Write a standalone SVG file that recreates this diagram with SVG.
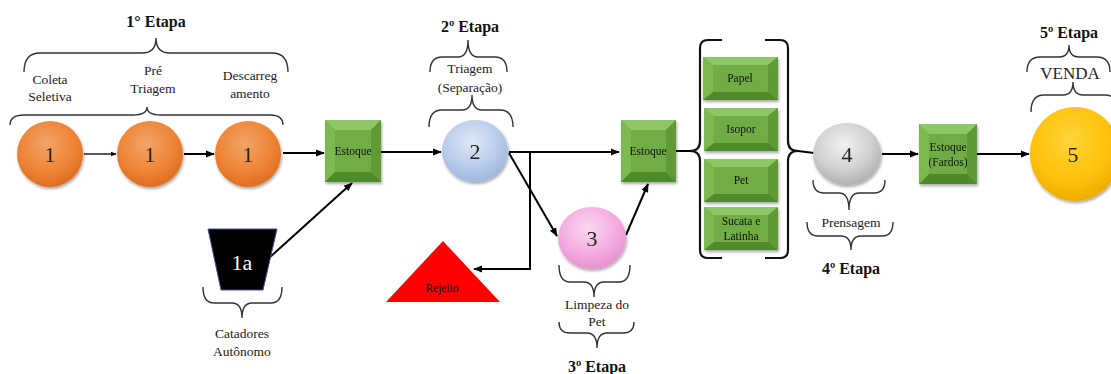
<svg xmlns="http://www.w3.org/2000/svg" width="1111" height="374" viewBox="0 0 1111 374">
  <defs>
    <radialGradient id="gOrange" cx="0.45" cy="0.35" r="0.7">
      <stop offset="0" stop-color="#f4a46a"/>
      <stop offset="0.6" stop-color="#ee8435"/>
      <stop offset="1" stop-color="#d9691f"/>
    </radialGradient>
    <radialGradient id="gBlue" cx="0.45" cy="0.35" r="0.7">
      <stop offset="0" stop-color="#dfe8f6"/>
      <stop offset="0.6" stop-color="#b8cbea"/>
      <stop offset="1" stop-color="#9ab2dc"/>
    </radialGradient>
    <radialGradient id="gPink" cx="0.45" cy="0.35" r="0.7">
      <stop offset="0" stop-color="#fbd8f0"/>
      <stop offset="0.6" stop-color="#f3abe0"/>
      <stop offset="1" stop-color="#e48ccc"/>
    </radialGradient>
    <radialGradient id="gGray" cx="0.45" cy="0.35" r="0.7">
      <stop offset="0" stop-color="#f2f2f2"/>
      <stop offset="0.6" stop-color="#cfcfcf"/>
      <stop offset="1" stop-color="#aaaaaa"/>
    </radialGradient>
    <radialGradient id="gYellow" cx="0.45" cy="0.35" r="0.7">
      <stop offset="0" stop-color="#ffd43a"/>
      <stop offset="0.6" stop-color="#ffc20a"/>
      <stop offset="1" stop-color="#e8a800"/>
    </radialGradient>
    <filter id="shadow" x="-20%" y="-20%" width="140%" height="140%">
      <feGaussianBlur in="SourceAlpha" stdDeviation="1.5"/>
      <feOffset dx="1" dy="2"/>
      <feComponentTransfer><feFuncA type="linear" slope="0.35"/></feComponentTransfer>
      <feMerge><feMergeNode/><feMergeNode in="SourceGraphic"/></feMerge>
    </filter>
    <marker id="arrow" viewBox="0 0 10 10" refX="9" refY="5" markerWidth="4.5" markerHeight="4.5" orient="auto-start-reverse" markerUnits="strokeWidth">
      <path d="M0,1 L10,5 L0,9 Z" fill="#000"/>
    </marker>
  </defs>
  <style>
    .stage { font-family: "Liberation Serif", serif; font-weight: bold; font-size: 16px; fill: #111; text-anchor: middle; }
    .lbl { font-family: "Liberation Serif", serif; font-size: 13.5px; fill: #222; text-anchor: middle; }
    .num { font-family: "Liberation Serif", serif; font-size: 22px; fill: #222; text-anchor: middle; }
    .box { font-family: "Liberation Serif", serif; font-size: 11.5px; fill: #111; text-anchor: middle; }
    .brace { fill: none; stroke: #333; stroke-width: 1.4; }
    .conn { fill: none; stroke: #000; stroke-width: 2; }
    .bevT { fill: #8fc765; }
    .bevL { fill: #7cba50; }
    .bevR { fill: #5e9a35; }
    .bevB { fill: #4f8a2a; }
    .face { fill: #6fae45; }
  </style>

  <!-- stage titles and captions -->
  <g id="labels">
    <text class="stage" x="156" y="27">1° Etapa</text>
    <text class="lbl" x="50" y="84">Coleta</text>
    <text class="lbl" x="50" y="101">Seletiva</text>
    <text class="lbl" x="153" y="75">Pré</text>
    <text class="lbl" x="153" y="93">Triagem</text>
    <text class="lbl" x="250" y="80">Descarreg</text>
    <text class="lbl" x="250" y="98">amento</text>

    <text class="stage" x="470" y="32">2º Etapa</text>
    <text class="lbl" x="470" y="73">Triagem</text>
    <text class="lbl" x="470" y="92">(Separação)</text>

    <text class="lbl" x="597" y="309">Limpeza do</text>
    <text class="lbl" x="597" y="326">Pet</text>
    <text class="stage" x="597" y="372">3º Etapa</text>

    <text class="lbl" x="851" y="227">Prensagem</text>
    <text class="stage" x="851" y="274">4º Etapa</text>

    <text class="stage" x="1069" y="38">5º Etapa</text>
    <text x="1070" y="79" style="font-family:'Liberation Serif',serif;font-size:17px;fill:#222;text-anchor:middle">VENDA</text>

    <text class="lbl" x="242" y="338">Catadores</text>
    <text class="lbl" x="242" y="356">Autônomo</text>
  </g>

  <!-- curly braces -->
  <g id="braces">
    <path class="brace" d="M24,72 Q24,53 40,53 L142,53 Q156,53 156,38 Q156,53 170,53 L272,53 Q288,53 288,72"/>
    <path class="brace" d="M10,125 Q10,115 24,115 L133,115 Q147,115 147,107 Q147,115 161,115 L270,115 Q283,115 283,125"/>
    <path class="brace" d="M430,72 Q430,57 442,57 L458,57 Q468,57 468,40 Q468,57 478,57 L495,57 Q507,57 507,72"/>
    <path class="brace" d="M429,127 Q429,110 442,110 L462,110 Q472,110 472,95 Q472,110 482,110 L500,110 Q513,110 513,127"/>
    <path class="brace" d="M559,265 Q559,282 570,282 L584,282 Q594,282 594,297 Q594,282 604,282 L619,282 Q630,282 630,265"/>
    <path class="brace" d="M559,322 Q559,333 570,333 L587,333 Q597,333 597,348 Q597,333 607,333 L623,333 Q634,333 634,322"/>
    <path class="brace" d="M813,180 Q813,193 824,193 L839,193 Q849,193 849,210 Q849,193 859,193 L874,193 Q885,193 885,180"/>
    <path class="brace" d="M807,222 Q807,236 818,236 L841,236 Q851,236 851,250 Q851,236 861,236 L882,236 Q893,236 893,222"/>
    <path class="brace" d="M1027,72 Q1027,57 1040,57 L1059,57 Q1069,57 1069,45 Q1069,57 1079,57 L1097,57 Q1110,57 1110,72"/>
    <path class="brace" d="M1031,112 Q1031,95 1044,95 L1063,95 Q1073,95 1073,82 Q1073,95 1083,95 L1105,95 Q1118,95 1118,112"/>
    <path class="brace" d="M203,287 Q203,303 214,303 L232,303 Q242,303 242,318 Q242,303 252,303 L271,303 Q282,303 282,287"/>
    <!-- large brackets around material boxes -->
    <path class="brace" style="stroke:#111;stroke-width:2.2" d="M722,40 L708,40 Q700,40 700,48 L700,141 Q700,151 690,151 Q700,151 700,161 L700,250 Q700,258 708,258 L722,258"/>
    <path class="brace" style="stroke:#111;stroke-width:2.2" d="M765,40 L780,40 Q788,40 788,48 L788,141 Q788,151 798,151 Q788,151 788,161 L788,250 Q788,258 780,258 L765,258"/>
  </g>

  <!-- connectors -->
  <g id="connectors">
    <line class="conn" style="stroke-width:1.3" x1="84" y1="154" x2="116" y2="154" marker-end="url(#arrow)"/>
    <line class="conn" x1="184" y1="154" x2="214" y2="154" marker-end="url(#arrow)"/>
    <line class="conn" x1="283" y1="153" x2="324" y2="153" marker-end="url(#arrow)"/>
    <line class="conn" x1="381" y1="152" x2="441" y2="152" marker-end="url(#arrow)"/>
    <line class="conn" x1="269" y1="258" x2="352" y2="183" marker-end="url(#arrow)"/>
    <line class="conn" x1="509" y1="152" x2="619" y2="152" marker-end="url(#arrow)"/>
    <polyline class="conn" points="530,152 530,269 474,269" marker-end="url(#arrow)"/>
    <line class="conn" x1="509" y1="153" x2="557" y2="236" marker-end="url(#arrow)"/>
    <line class="conn" x1="626" y1="235" x2="648" y2="184" marker-end="url(#arrow)"/>
    <line class="conn" x1="676" y1="151" x2="690" y2="151"/>
    <line class="conn" x1="798" y1="151" x2="814" y2="153"/>
    <line class="conn" x1="882" y1="154" x2="918" y2="154" marker-end="url(#arrow)"/>
    <line class="conn" x1="977" y1="154" x2="1029" y2="154" marker-end="url(#arrow)"/>
  </g>

  <!-- stage 1 circles -->
  <g id="n1a" filter="url(#shadow)">
    <ellipse cx="50" cy="154" rx="33" ry="33" fill="url(#gOrange)"/>
    <text class="num" x="50" y="162">1</text>
  </g>
  <g id="n1b" filter="url(#shadow)">
    <ellipse cx="150" cy="154" rx="33" ry="33" fill="url(#gOrange)"/>
    <text class="num" x="150" y="162">1</text>
  </g>
  <g id="n1c" filter="url(#shadow)">
    <ellipse cx="248" cy="154" rx="33" ry="33" fill="url(#gOrange)"/>
    <text class="num" x="248" y="162">1</text>
  </g>

  <!-- independent collectors -->
  <g id="catadores">
    <polygon points="208,229 277,229 263,290 221,290" fill="#000" stroke="#3a5a8a" stroke-width="1"/>
    <text class="num" x="242" y="270" style="fill:#fff">1a</text>
  </g>

  <!-- stock box 1 -->
  <g id="estoque1" filter="url(#shadow)">
    <rect class="face" x="325" y="120" width="56" height="62"/>
    <polygon class="bevT" points="325,120 381,120 371,130 335,130"/>
    <polygon class="bevL" points="325,120 335,130 335,172 325,182"/>
    <polygon class="bevR" points="381,120 381,182 371,172 371,130"/>
    <polygon class="bevB" points="325,182 381,182 371,172 335,172"/>
    <text class="box" x="353" y="155">Estoque</text>
  </g>

  <!-- sorting -->
  <g id="n2" filter="url(#shadow)">
    <ellipse cx="475" cy="151" rx="33" ry="31" fill="url(#gBlue)"/>
    <text class="num" x="475" y="159">2</text>
  </g>

  <!-- reject -->
  <g id="rejeito">
    <polygon points="443,241 500,302 386,302" fill="#ff0000"/>
    <text class="box" x="442" y="292">Rejeito</text>
  </g>

  <!-- PET cleaning -->
  <g id="n3" filter="url(#shadow)">
    <ellipse cx="592" cy="238" rx="34" ry="31" fill="url(#gPink)"/>
    <text class="num" x="592" y="246">3</text>
  </g>

  <!-- stock box 2 -->
  <g id="estoque2" filter="url(#shadow)">
    <rect class="face" x="621" y="120" width="55" height="62"/>
    <polygon class="bevT" points="621,120 676,120 666,130 631,130"/>
    <polygon class="bevL" points="621,120 631,130 631,172 621,182"/>
    <polygon class="bevR" points="676,120 676,182 666,172 666,130"/>
    <polygon class="bevB" points="621,182 676,182 666,172 631,172"/>
    <text class="box" x="648" y="155">Estoque</text>
  </g>

  <!-- material boxes -->
  <g id="papel" filter="url(#shadow)">
    <rect class="face" x="703" y="57" width="75" height="43"/>
    <polygon class="bevT" points="703,57 778,57 768,65 713,65"/>
    <polygon class="bevL" points="703,57 713,65 713,92 703,100"/>
    <polygon class="bevR" points="778,57 778,100 768,92 768,65"/>
    <polygon class="bevB" points="703,100 778,100 768,92 713,92"/>
    <text class="box" x="740" y="82">Papel</text>
  </g>
  <g id="isopor" filter="url(#shadow)">
    <rect class="face" x="704" y="108" width="74" height="43"/>
    <polygon class="bevT" points="704,108 778,108 768,116 714,116"/>
    <polygon class="bevL" points="704,108 714,116 714,143 704,151"/>
    <polygon class="bevR" points="778,108 778,151 768,143 768,116"/>
    <polygon class="bevB" points="704,151 778,151 768,143 714,143"/>
    <text class="box" x="741" y="133">Isopor</text>
  </g>
  <g id="pet" filter="url(#shadow)">
    <rect class="face" x="704" y="159" width="74" height="43"/>
    <polygon class="bevT" points="704,159 778,159 768,167 714,167"/>
    <polygon class="bevL" points="704,159 714,167 714,194 704,202"/>
    <polygon class="bevR" points="778,159 778,202 768,194 768,167"/>
    <polygon class="bevB" points="704,202 778,202 768,194 714,194"/>
    <text class="box" x="741" y="184">Pet</text>
  </g>
  <g id="sucata" filter="url(#shadow)">
    <rect class="face" x="704" y="207" width="74" height="43"/>
    <polygon class="bevT" points="704,207 778,207 768,215 714,215"/>
    <polygon class="bevL" points="704,207 714,215 714,242 704,250"/>
    <polygon class="bevR" points="778,207 778,250 768,242 768,215"/>
    <polygon class="bevB" points="704,250 778,250 768,242 714,242"/>
    <text class="box" x="741" y="225">Sucata e</text>
    <text class="box" x="741" y="240">Latinha</text>
  </g>

  <!-- pressing -->
  <g id="n4" filter="url(#shadow)">
    <ellipse cx="847" cy="154" rx="34" ry="31" fill="url(#gGray)"/>
    <text class="num" x="847" y="162">4</text>
  </g>

  <!-- bale stock -->
  <g id="estoque3" filter="url(#shadow)">
    <rect class="face" x="919" y="124" width="58" height="60"/>
    <polygon class="bevT" points="919,124 977,124 967,134 929,134"/>
    <polygon class="bevL" points="919,124 929,134 929,174 919,184"/>
    <polygon class="bevR" points="977,124 977,184 967,174 967,134"/>
    <polygon class="bevB" points="919,184 977,184 967,174 929,174"/>
    <text class="box" x="948" y="151">Estoque</text>
    <text class="box" x="948" y="166">(Fardos)</text>
  </g>

  <!-- sale -->
  <g id="n5" filter="url(#shadow)">
    <ellipse cx="1075" cy="154" rx="45" ry="47" fill="url(#gYellow)"/>
    <text class="num" x="1073" y="162">5</text>
  </g>
</svg>
